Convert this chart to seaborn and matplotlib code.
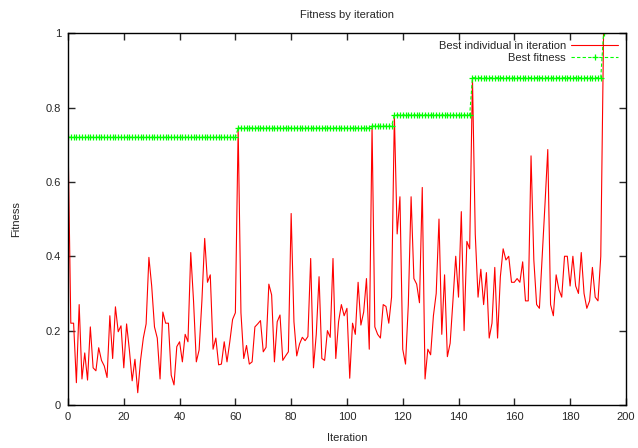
import numpy as np
import pandas as pd
import matplotlib
matplotlib.use("Agg")
import matplotlib.pyplot as plt
import seaborn as sns

# Fitness of the best individual in each iteration
best_in_iteration = [
    0.72, 0.22, 0.22, 0.06, 0.27, 0.07, 0.14, 0.067, 0.21, 0.10,
    0.092, 0.154, 0.12, 0.105, 0.074, 0.24, 0.125, 0.264, 0.197, 0.213,
    0.10, 0.218, 0.148, 0.065, 0.123, 0.033, 0.12, 0.18, 0.218, 0.397,
    0.32, 0.21, 0.18, 0.07, 0.25, 0.22, 0.22, 0.08, 0.054, 0.157,
    0.17, 0.116, 0.19, 0.17, 0.41, 0.28, 0.116, 0.148, 0.28, 0.448,
    0.33, 0.35, 0.15, 0.18, 0.108, 0.11, 0.17, 0.116, 0.17, 0.23,
    0.248, 0.745, 0.248, 0.125, 0.16, 0.11, 0.116, 0.21, 0.218, 0.227,
    0.143, 0.155, 0.325, 0.296, 0.116, 0.224, 0.242, 0.12, 0.132, 0.143,
    0.515, 0.224, 0.132, 0.164, 0.182, 0.173, 0.184, 0.394, 0.10, 0.19,
    0.345, 0.125, 0.12, 0.20, 0.182, 0.394, 0.125, 0.224, 0.27, 0.24,
    0.26, 0.072, 0.22, 0.19, 0.33, 0.215, 0.25, 0.34, 0.15, 0.75,
    0.21, 0.19, 0.18, 0.27, 0.265, 0.22, 0.29, 0.78, 0.46, 0.56,
    0.15, 0.11, 0.27, 0.56, 0.34, 0.325, 0.275, 0.585, 0.07, 0.15,
    0.135, 0.24, 0.30, 0.50, 0.19, 0.35, 0.13, 0.166, 0.28, 0.40,
    0.29, 0.52, 0.20, 0.44, 0.42, 0.88, 0.46, 0.29, 0.365, 0.27,
    0.356, 0.18, 0.22, 0.37, 0.18, 0.345, 0.42, 0.39, 0.40, 0.33,
    0.33, 0.34, 0.33, 0.385, 0.28, 0.28, 0.67, 0.39, 0.27, 0.26,
    0.40, 0.54, 0.687, 0.27, 0.24, 0.35, 0.31, 0.29, 0.40, 0.40,
    0.32, 0.40, 0.32, 0.30, 0.41, 0.30, 0.26, 0.28, 0.37, 0.29,
    0.28, 0.40, 1.0,
]
iterations = list(range(len(best_in_iteration)))

# best fitness so far
best_fitness = np.maximum.accumulate(best_in_iteration)

df = pd.DataFrame({
    "Iteration": iterations,
    "best_iter": best_in_iteration,
    "best_fit": best_fitness,
})

sns.set_style("ticks")
plt.rcParams["font.family"] = ["Liberation Sans", "DejaVu Sans"]

fig = plt.figure(figsize=(6.38, 4.48), dpi=100)
ax = fig.add_axes([0.1066, 0.096, 0.8744, 0.830])

sns.lineplot(data=df, x="Iteration", y="best_iter", ax=ax, color="#ff0000",
             linewidth=0.8, label="Best individual in iteration")
sns.lineplot(data=df, x="Iteration", y="best_fit", ax=ax, color="#00ff00",
             linewidth=0.8, linestyle=(0, (3, 2)), marker="+", markersize=5,
             markeredgewidth=0.9, markeredgecolor="#00ff00",
             label="Best fitness")

ax.set_xlim(0, 200)
ax.set_ylim(0, 1)
ax.set_xticks(range(0, 201, 20))
ax.set_yticks([0, 0.2, 0.4, 0.6, 0.8, 1])
ax.set_yticklabels(["0", "0.2", "0.4", "0.6", "0.8", "1"])
ax.tick_params(direction="in", top=True, right=True, length=5, width=1,
               labelsize=8, pad=5)
for s in ax.spines.values():
    s.set_linewidth(1)
    s.set_color("black")

ax.set_title("Fitness by iteration", fontsize=8, pad=11)
ax.set_xlabel("Iteration", fontsize=8, labelpad=8)
ax.set_ylabel("Fitness", fontsize=8, labelpad=18)

leg = ax.legend(loc="upper right", frameon=False, markerfirst=False,
                fontsize=8, handlelength=4.2, borderaxespad=0.3,
                labelspacing=0.15, handletextpad=0.5)
leg.legend_handles[1].set_markevery([1])

fig.savefig("out.png", dpi=100)
